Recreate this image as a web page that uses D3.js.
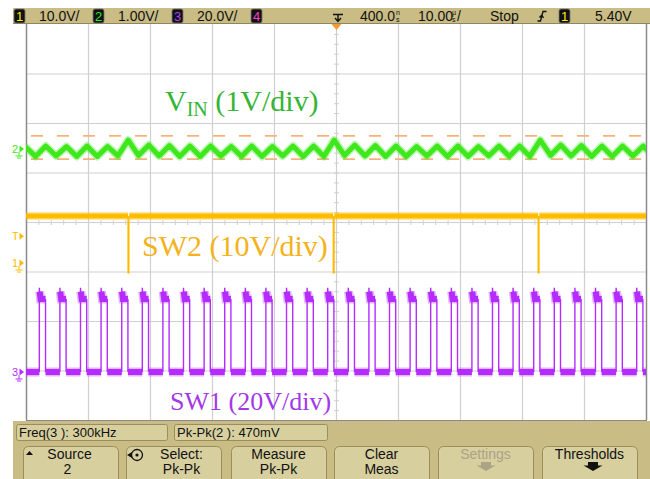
<!DOCTYPE html>
<html>
<head>
<meta charset="utf-8">
<script src="https://cdn.jsdelivr.net/npm/d3@7/dist/d3.min.js"></script>
<style>
  html, body { margin: 0; padding: 0; background: #ffffff; }
  svg { display: block; }
</style>
</head>
<body>
<svg id="scope" width="650" height="479"></svg>
<script>
// ---- Acquisition data (times in µs across the 100 µs screen, levels in volts) ----

// SW1 (channel 3): rising-edge times of the switch-node pulses
const sw1RiseTimes = [2.15, 5.47, 8.79, 12.11, 15.44, 18.76, 22.08, 25.40, 28.73, 32.05,
                      35.37, 38.69, 42.02, 45.34, 48.66, 51.98, 55.31, 58.63, 61.95, 65.27,
                      68.60, 71.92, 75.24, 78.56, 81.89, 85.21, 88.53, 91.85, 95.18, 98.50];
const sw1OnTime = 1.0;            // µs
const sw1Levels = [0, 29.5, 34];  // low, high, overshoot

// SW2 (channel 1): high level and the brief drops to ground
const sw2SpikeTimes = [16.45, 49.55, 82.60];
const sw2Levels = [9.5, -2];      // high, spike minimum

// VIN ripple (channel 2): triangle vertices
const vinPeakTimes = [-0.13, 3.19, 6.52, 9.84, 13.16, 16.48, 19.81, 23.13, 26.45, 29.77, 33.10,
                      36.42, 39.74, 43.06, 46.39, 49.71, 53.03, 56.35, 59.68, 63.00, 66.32,
                      69.65, 72.97, 76.29, 79.61, 82.94, 86.26, 89.58, 92.90, 96.23, 99.55];
const vinPeakValues = [0.05, 0.06, 0.05, 0.06, 0.05, 0.18, 0.08, 0.07, 0.06, 0.06, 0.05,
                       0.06, 0.05, 0.06, 0.06, 0.18, 0.08, 0.07, 0.06, 0.05, 0.06,
                       0.06, 0.05, 0.06, 0.06, 0.18, 0.08, 0.07, 0.06, 0.06, 0.06];
const vinTroughTimes = [1.53, 4.85, 8.18, 11.50, 14.82, 18.14, 21.47, 24.79, 28.11, 31.43, 34.76,
                        38.08, 41.40, 44.72, 48.05, 51.37, 54.69, 58.01, 61.34, 64.66, 67.98,
                        71.31, 74.63, 77.95, 81.27, 84.60, 87.92, 91.24, 94.56, 97.89, 101.21];
const vinTroughValues = [-0.15, -0.14, -0.15, -0.15, -0.14, -0.13, -0.14, -0.15, -0.15, -0.14, -0.15,
                         -0.15, -0.14, -0.15, -0.15, -0.13, -0.14, -0.15, -0.15, -0.14, -0.15,
                         -0.15, -0.14, -0.15, -0.15, -0.13, -0.14, -0.15, -0.15, -0.14, -0.15];
const vinCursors = [0.265, -0.205];   // Pk-Pk measurement markers (470 mV apart)

// Status line and softkey texts
const channelScales = ["10.0V/", "1.00V/", "20.0V/"];
const timebase = ["400.0", "10.00"];
const runState = "Stop";
const triggerLevel = "5.40V";
const measurements = ["Freq(3 ): 300kHz", "Pk-Pk(2 ): 470mV"];
const softkeys = [["Source", "2"], ["Select:", "Pk-Pk"], ["Measure", "Pk-Pk"],
                  ["Clear", "Meas"], ["Settings", ""], ["Thresholds", ""]];

// ---- Layout ----
const svg = d3.select("#scope");
const plot = { left: 26, right: 646, top: 24, bottom: 420 };
const colors = {
  ch1: "#ffbb00", ch1Text: "#f5b21a",
  ch2: "#3fe81c", ch2Text: "#35b535",
  ch3: "#b42cff", ch3Text: "#a238e6",
  ch4: "#ff3cc8",
  panel: "#c9bc84", box: "#d8cf9f", boxEdge: "#9a8f5c",
  grid: "#cfcfcf", frame: "#8a8a8a", cursor: "#f7b27a"
};

const x = d3.scaleLinear().domain([0, 100]).range([plot.left, plot.right]);
const divX = d3.scaleLinear().domain([0, 10]).range([plot.left, plot.right]);
const divY = d3.scaleLinear().domain([0, 8]).range([plot.top, plot.bottom]);
// per-channel vertical scales (volts -> pixels), one division = 49.5 px
const y1 = d3.scaleLinear().domain([0, 10]).range([263, 213.5]);  // 10 V/div
const y2 = d3.scaleLinear().domain([0, 1]).range([149, 99.5]);    // 1 V/div
const y3 = d3.scaleLinear().domain([0, 20]).range([372, 322.5]);  // 20 V/div

svg.append("defs").append("clipPath").attr("id", "plotClip")
  .append("rect").attr("x", plot.left).attr("y", plot.top)
  .attr("width", plot.right - plot.left).attr("height", plot.bottom - plot.top);

// ---- Graticule ----
const grid = svg.append("g");
grid.selectAll(".gx").data(d3.range(1, 10)).join("line")
  .attr("x1", d => divX(d) + 0.5).attr("x2", d => divX(d) + 0.5)
  .attr("y1", plot.top).attr("y2", plot.bottom)
  .attr("stroke", colors.grid).attr("stroke-width", 1.2);
grid.selectAll(".gy").data(d3.range(1, 8)).join("line")
  .attr("x1", plot.left).attr("x2", plot.right)
  .attr("y1", d => divY(d) + 0.5).attr("y2", d => divY(d) + 0.5)
  .attr("stroke", colors.grid).attr("stroke-width", 1.2);
// minor ticks on the centre axes
grid.selectAll(".mtx").data(d3.range(0, 10.01, 0.2)).join("line")
  .attr("x1", d => divX(d) + 0.5).attr("x2", d => divX(d) + 0.5)
  .attr("y1", divY(4) - 2).attr("y2", divY(4) + 3)
  .attr("stroke", colors.grid).attr("stroke-width", 1);
grid.selectAll(".mty").data(d3.range(0, 8.01, 0.2)).join("line")
  .attr("x1", divX(5) - 2).attr("x2", divX(5) + 3)
  .attr("y1", d => divY(d) + 0.5).attr("y2", d => divY(d) + 0.5)
  .attr("stroke", colors.grid).attr("stroke-width", 1);
// frame
grid.append("line").attr("x1", plot.left + 0.5).attr("x2", plot.left + 0.5)
  .attr("y1", plot.top).attr("y2", plot.bottom).attr("stroke", colors.frame).attr("stroke-width", 1.5);
grid.append("line").attr("x1", plot.right + 0.5).attr("x2", plot.right + 0.5)
  .attr("y1", plot.top).attr("y2", plot.bottom).attr("stroke", colors.frame).attr("stroke-width", 1.5);
grid.append("line").attr("x1", plot.left).attr("x2", plot.right + 1)
  .attr("y1", plot.bottom + 0.5).attr("y2", plot.bottom + 0.5).attr("stroke", colors.frame).attr("stroke-width", 1.2);

const traces = svg.append("g").attr("clip-path", "url(#plotClip)");

// ---- Pk-Pk cursors ----
traces.selectAll(".cursor").data(vinCursors).join("line")
  .attr("x1", plot.left).attr("x2", plot.right)
  .attr("y1", d => y2(d)).attr("y2", d => y2(d))
  .attr("stroke", colors.cursor).attr("stroke-width", 1.6)
  .attr("stroke-dasharray", "12 14").attr("stroke-dashoffset", -5);

// ---- VIN trace ----
const vinPts = [];
vinPeakTimes.forEach((t, i) => {
  vinPts.push([t, vinPeakValues[i]]);
  vinPts.push([vinTroughTimes[i], vinTroughValues[i]]);
});
vinPts.sort((a, b) => a[0] - b[0]);
const lineV = d3.line().x(d => x(d[0])).y(d => y2(d[1]));
traces.append("path").attr("d", lineV(vinPts)).attr("fill", "none")
  .attr("stroke", colors.ch2).attr("stroke-width", 8).attr("stroke-opacity", 0.35)
  .attr("stroke-linejoin", "round");
traces.append("path").attr("d", lineV(vinPts)).attr("fill", "none")
  .attr("stroke", colors.ch2).attr("stroke-width", 5).attr("stroke-linejoin", "round");

// ---- SW2 trace ----
const line1 = d3.line().x(d => x(d[0])).y(d => y1(d[1]));
const sw2Bounds = [0].concat(sw2SpikeTimes).concat([100]);
const sw2Bands = d3.pairs(sw2Bounds).map(([a, b], i) => [[i === 0 ? a : a + 0.2, sw2Levels[0]], [b, sw2Levels[0]]]);
sw2Bands.forEach(seg => {
  traces.append("path").attr("d", line1(seg)).attr("fill", "none")
    .attr("stroke", colors.ch1).attr("stroke-width", 8).attr("stroke-opacity", 0.35);
  traces.append("path").attr("d", line1(seg)).attr("fill", "none")
    .attr("stroke", colors.ch1).attr("stroke-width", 5);
});
sw2SpikeTimes.forEach(t => {
  const spike = [[t, sw2Levels[0]], [t, sw2Levels[1]], [t + 0.15, sw2Levels[1]], [t + 0.15, sw2Levels[0]]];
  traces.append("path").attr("d", line1(spike)).attr("fill", "none")
    .attr("stroke", colors.ch1).attr("stroke-width", 1.2);
});

// ---- SW1 trace ----
const line3 = d3.line().x(d => x(d[0])).y(d => y3(d[1]));
const [lo, hi, os] = sw1Levels;
const edges = [];
sw1RiseTimes.forEach(t => {
  edges.push([[t, lo], [t, os], [t + 0.1, hi]]);
  edges.push([[t + sw1OnTime, hi], [t + sw1OnTime, lo]]);
});
edges.forEach(e => {
  traces.append("path").attr("d", line3(e)).attr("fill", "none")
    .attr("stroke", colors.ch3).attr("stroke-width", 1.4);
});
// plateaus (high and low), drawn as noisy bands
const lowBands = [[0, sw1RiseTimes[0]]];
sw1RiseTimes.forEach((t, i) => {
  const next = i + 1 < sw1RiseTimes.length ? sw1RiseTimes[i + 1] : 100;
  lowBands.push([t + sw1OnTime, next]);
});
const bandPaths = [];
lowBands.forEach(([a, b]) => bandPaths.push([[a, lo], [b, lo]]));
sw1RiseTimes.forEach(t => bandPaths.push([[t + 0.05, os - 1.5], [t + 0.2, hi], [t + sw1OnTime, hi]]));
bandPaths.forEach(p => {
  traces.append("path").attr("d", line3(p)).attr("fill", "none")
    .attr("stroke", colors.ch3).attr("stroke-width", 9).attr("stroke-opacity", 0.35);
  traces.append("path").attr("d", line3(p)).attr("fill", "none")
    .attr("stroke", colors.ch3).attr("stroke-width", 6);
});

// ---- Trace annotations ----
const serif = "'Liberation Serif', 'Times New Roman', serif";
const vinLabel = svg.append("text").attr("x", 165).attr("y", 111)
  .attr("font-family", serif).attr("font-size", 30).attr("fill", colors.ch2Text);
vinLabel.append("tspan").text("V");
vinLabel.append("tspan").attr("font-size", 20).attr("dy", 5).text("IN");
vinLabel.append("tspan").attr("dy", -5).text(" (1V/div)");

svg.append("text").attr("x", 142).attr("y", 256)
  .attr("font-family", serif).attr("font-size", 30).attr("fill", colors.ch1Text).text("SW2 (10V/div)");

svg.append("text").attr("x", 170).attr("y", 410)
  .attr("font-family", serif).attr("font-size", 26).attr("fill", colors.ch3Text).text("SW1 (20V/div)");

// ---- Left-edge channel markers ----
function groundMark(g, cx, cy, col) {
  g.append("path").attr("d", `M${cx},${cy} L${cx},${cy + 4} M${cx - 3.5},${cy + 4} L${cx + 3.5},${cy + 4} M${cx - 2},${cy + 6} L${cx + 2},${cy + 6}`)
    .attr("stroke", col).attr("stroke-width", 1).attr("fill", "none");
}
function marker(label, yPos, col, ground) {
  const g = svg.append("g");
  g.append("text").attr("x", 12).attr("y", yPos + 4)
    .attr("font-family", "'Liberation Sans', Arial, sans-serif").attr("font-size", 11)
    .attr("fill", col).text(label);
  g.append("path").attr("d", `M19.5,${yPos - 3.5} L24,${yPos} L19.5,${yPos + 3.5} Z`).attr("fill", col);
  if (ground) groundMark(g, 19, yPos + 3, col);
}
marker("2", y2(0), colors.ch2, true);
marker("T", y1(5.4), colors.ch1, false);
marker("1", y1(0), colors.ch1, true);
marker("3", y3(0), colors.ch3, true);

// trigger position marker on the top edge
svg.append("path").attr("d", `M${x(50) - 4.5},${plot.top} L${x(50) + 5.5},${plot.top} L${x(50) + 0.5},${plot.top + 6} Z`)
  .attr("fill", "#f59a30");

// ---- Status line ----
const sans = "'Liberation Sans', Arial, sans-serif";
svg.append("rect").attr("x", 13).attr("y", 8).attr("width", 637).attr("height", 16).attr("fill", colors.panel);
svg.append("line").attr("x1", 13).attr("x2", 650).attr("y1", 23.5).attr("y2", 23.5).attr("stroke", "#8f8660");

function chanBox(x0, label, col) {
  svg.append("rect").attr("x", x0).attr("y", 9).attr("width", 11).attr("height", 14).attr("rx", 2)
    .attr("fill", "#111").attr("stroke", "#777").attr("stroke-width", 0.8);
  svg.append("text").attr("x", x0 + 5.5).attr("y", 20.5).attr("text-anchor", "middle")
    .attr("font-family", sans).attr("font-size", 13).attr("fill", col).text(label);
}
chanBox(14, "1", "#ffee00");
chanBox(93, "2", "#22ee22");
chanBox(172, "3", "#b040ff");
chanBox(251, "4", "#ff3cc8");
const status = svg.append("g").attr("font-family", sans).attr("font-size", 14).attr("fill", "#111");
status.append("text").attr("x", 39).attr("y", 21).text(channelScales[0]);
status.append("text").attr("x", 118).attr("y", 21).text(channelScales[1]);
status.append("text").attr("x", 197).attr("y", 21).text(channelScales[2]);
// delay
status.append("text").attr("x", 360).attr("y", 21).text(timebase[0]);
status.append("text").attr("x", 396).attr("y", 15).attr("font-size", 7).text("n");
status.append("text").attr("x", 396).attr("y", 21.5).attr("font-size", 7).text("s");
// timebase
status.append("text").attr("x", 418).attr("y", 21).text(timebase[1]);
status.append("text").attr("x", 452).attr("y", 15).attr("font-size", 7).text("µ");
status.append("text").attr("x", 452).attr("y", 21.5).attr("font-size", 7).text("s");
status.append("text").attr("x", 457).attr("y", 21).text("/");
status.append("text").attr("x", 490).attr("y", 21).text(runState);
status.append("text").attr("x", 595).attr("y", 21).text(triggerLevel);
// delay reference symbol
svg.append("path").attr("d", "M333,14.5 L343,14.5 M338,14.5 L338,21 M335,18 L338,21.5 L341,18")
  .attr("stroke", "#111").attr("stroke-width", 1.4).attr("fill", "none");
// edge trigger symbol
svg.append("path").attr("d", "M537.5,21 L540.5,21 L543,11.5 L546.5,11.5 M539.5,17.5 L541.8,15 L543.5,17.8")
  .attr("stroke", "#111").attr("stroke-width", 1.3).attr("fill", "none");
chanBox(559, "1", "#ffee00");

// ---- Measurement / softkey panel ----
svg.append("rect").attr("x", 13).attr("y", 421).attr("width", 637).attr("height", 58).attr("fill", colors.panel);
const measX = [[16, 167], [174, 327]];
measurements.forEach((m, i) => {
  svg.append("rect").attr("x", measX[i][0] + 0.5).attr("y", 424.5)
    .attr("width", measX[i][1] - measX[i][0]).attr("height", 16).attr("rx", 2)
    .attr("fill", colors.box).attr("stroke", colors.boxEdge).attr("stroke-width", 1);
  svg.append("text").attr("x", measX[i][0] + 3).attr("y", 437)
    .attr("font-family", sans).attr("font-size", 13).attr("fill", "#111").text(m);
});
const keyX = [23, 126, 231, 334, 438, 542];
const keyW = 95;
softkeys.forEach((k, i) => {
  const cx = keyX[i] + keyW / 2;
  const col = i === 4 ? "#aaa386" : "#111";
  svg.append("rect").attr("x", keyX[i] + 0.5).attr("y", 446.5).attr("width", keyW).attr("height", 40)
    .attr("rx", 5).attr("fill", colors.box).attr("stroke", colors.boxEdge).attr("stroke-width", 1);
  const off = i === 1 ? 8 : 0;
  svg.append("text").attr("x", cx + off - (i === 0 ? 1 : 0)).attr("y", 459).attr("text-anchor", "middle")
    .attr("font-family", sans).attr("font-size", 14).attr("fill", col).text(k[0]);
  if (k[1]) {
    svg.append("text").attr("x", cx + off - (i === 0 ? 3 : 0)).attr("y", 474).attr("text-anchor", "middle")
      .attr("font-family", sans).attr("font-size", 14).attr("fill", col).text(k[1]);
  }
});
// softkey glyphs
svg.append("path").attr("d", "M26,455 L29.5,451 L33,455 Z").attr("fill", "#111");
svg.append("circle").attr("cx", 137).attr("cy", 455).attr("r", 5.5).attr("fill", "none").attr("stroke", "#111").attr("stroke-width", 1.3);
svg.append("path").attr("d", "M127,455 L132,452 L132,458 Z").attr("fill", "#111");
svg.append("circle").attr("cx", 137).attr("cy", 455).attr("r", 1.6).attr("fill", "#111");
svg.append("path").attr("d", "M481,462 L491,462 L491,465.5 L495.5,465.5 L486,471 L476.5,465.5 L481,465.5 Z").attr("fill", "#aaa386");
svg.append("path").attr("d", "M588,462 L598,462 L598,465.5 L602.5,465.5 L593,471 L583.5,465.5 L588,465.5 Z").attr("fill", "#111");
</script>
</body>
</html>
